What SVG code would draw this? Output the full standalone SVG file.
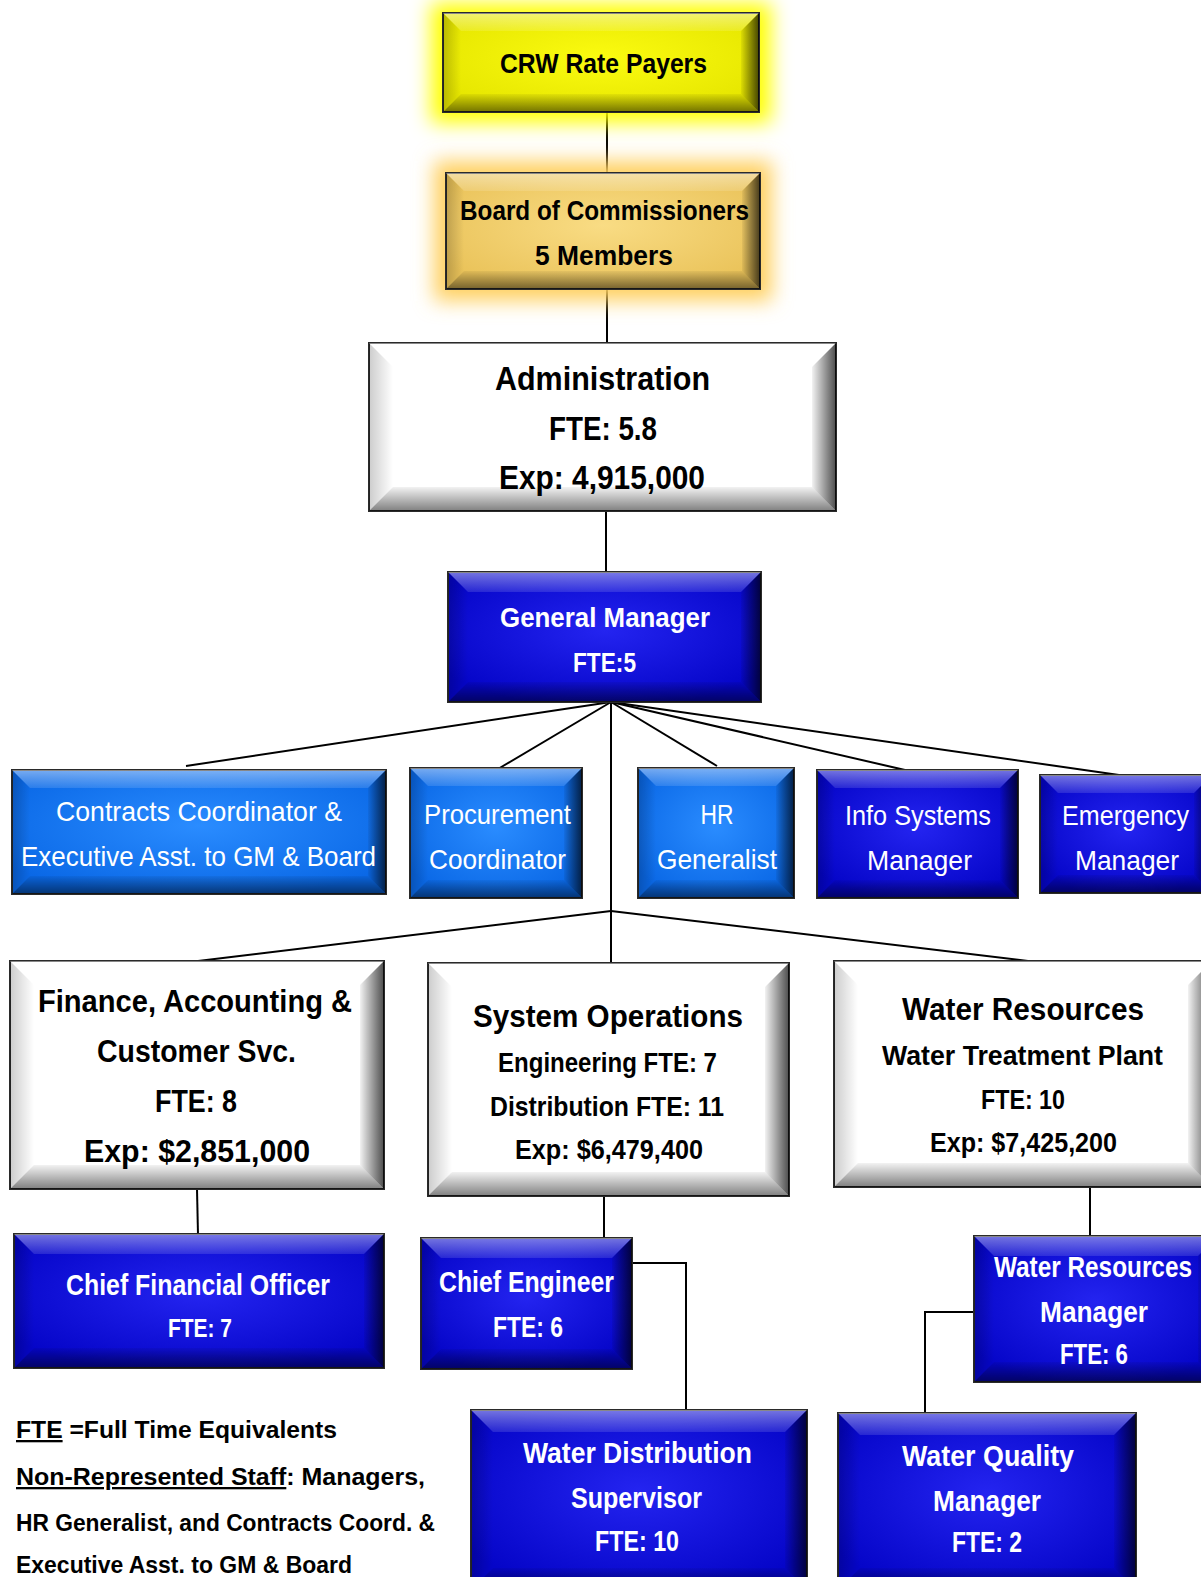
<svg xmlns="http://www.w3.org/2000/svg" width="1201" height="1577" viewBox="0 0 1201 1577">
<defs>
<style>
.t{font-family:"Liberation Sans Narrow","Liberation Sans",Arial,sans-serif;font-weight:bold;text-anchor:middle}
.r{font-weight:normal}
.k{fill:#000}
.w{fill:#fff}
.lg{font-family:"Liberation Sans Narrow","Liberation Sans",Arial,sans-serif;font-weight:bold;font-size:23px;fill:#000}
.box{stroke:#2a2a2a;stroke-width:2}
.yel{fill:url(#gYel)}
.gold{fill:url(#gGold)}
.wht{fill:#fff}
.dbl{fill:url(#gDb)}
.lbl{fill:url(#gLb)}
.bt{fill:url(#gT)}
.bl{fill:url(#gL)}
.br{fill:url(#gR)}
.bb{fill:url(#gB)}
.cn{fill:none;stroke:#000;stroke-width:2}
</style>
<linearGradient id="gT" x1="0" y1="0" x2="0" y2="1"><stop offset="0" stop-color="#fff" stop-opacity="0.45"/><stop offset="1" stop-color="#fff" stop-opacity="0.12"/></linearGradient>
<linearGradient id="gL" x1="0" y1="0" x2="1" y2="0"><stop offset="0" stop-color="#000" stop-opacity="0.2"/><stop offset="1" stop-color="#000" stop-opacity="0"/></linearGradient>
<linearGradient id="gR" x1="0" y1="0" x2="1" y2="0"><stop offset="0" stop-color="#000" stop-opacity="0.05"/><stop offset="1" stop-color="#000" stop-opacity="0.7"/></linearGradient>
<linearGradient id="gB" x1="0" y1="0" x2="0" y2="1"><stop offset="0" stop-color="#000" stop-opacity="0.05"/><stop offset="1" stop-color="#000" stop-opacity="0.5"/></linearGradient>
<radialGradient id="gDb" cx="0.5" cy="0.45" r="0.6"><stop offset="0" stop-color="#2424f0"/><stop offset="1" stop-color="#0505c8"/></radialGradient>
<radialGradient id="gLb" cx="0.5" cy="0.45" r="0.6"><stop offset="0" stop-color="#2a8cff"/><stop offset="1" stop-color="#0a68e6"/></radialGradient>
<radialGradient id="gYel" cx="0.5" cy="0.45" r="0.6"><stop offset="0" stop-color="#fbfb10"/><stop offset="1" stop-color="#e6e600"/></radialGradient>
<radialGradient id="gGold" cx="0.5" cy="0.45" r="0.6"><stop offset="0" stop-color="#f9dc84"/><stop offset="1" stop-color="#eac35a"/></radialGradient>
<filter id="glow" x="-30%" y="-60%" width="160%" height="220%"><feGaussianBlur stdDeviation="10"/></filter>
</defs>
<rect width="1201" height="1577" fill="#fff"/>

<g id="connectors">
<line class="cn" x1="607" y1="112" x2="607" y2="173"/>
<line class="cn" x1="607" y1="289" x2="607" y2="343"/>
<line class="cn" x1="606" y1="511" x2="606" y2="572"/>
<line class="cn" x1="611" y1="702" x2="186" y2="766"/>
<line class="cn" x1="611" y1="702" x2="498" y2="769"/>
<line class="cn" x1="611" y1="702" x2="717" y2="766"/>
<line class="cn" x1="611" y1="702" x2="905" y2="770"/>
<line class="cn" x1="611" y1="702" x2="1119" y2="775"/>
<line class="cn" x1="611" y1="702" x2="611" y2="963"/>
<line class="cn" x1="611" y1="911" x2="198" y2="961"/>
<line class="cn" x1="611" y1="911" x2="1028" y2="961"/>
<line class="cn" x1="197" y1="1189" x2="198" y2="1235"/>
<line class="cn" x1="604" y1="1196" x2="604" y2="1238"/>
<path class="cn" d="M615,1263 H686 V1414 H756"/>
<line class="cn" x1="1090" y1="1187" x2="1090" y2="1236"/>
<path class="cn" d="M975,1312 H925 V1414"/>
</g>

<g id="crw">
<rect x="431" y="3" width="340" height="120" fill="#ffff00" filter="url(#glow)"/>
<rect class="box yel" x="443" y="13" width="316" height="99"/>
<polygon class="bt" points="443,13 759,13 741,31 461,31"/>
<polygon class="bb" points="443,112 759,112 741,94 461,94"/>
<polygon class="bl" points="443,13 461,31 461,94 443,112"/>
<polygon class="br" points="759,13 741,31 741,94 759,112"/>
<text class="t k" x="603.5" y="73" font-size="28" textLength="207" lengthAdjust="spacingAndGlyphs">CRW Rate Payers</text>
</g>

<g id="board">
<rect x="434" y="161" width="338" height="140" fill="#ffd060" filter="url(#glow)"/>
<rect class="box gold" x="446" y="173" width="314" height="116"/>
<polygon class="bt" points="446,173 760,173 742,191 464,191"/>
<polygon class="bb" points="446,289 760,289 742,271 464,271"/>
<polygon class="bl" points="446,173 464,191 464,271 446,289"/>
<polygon class="br" points="760,173 742,191 742,271 760,289"/>
<text class="t k" x="604.5" y="220" font-size="28" textLength="289" lengthAdjust="spacingAndGlyphs">Board of Commissioners</text>
<text class="t k" x="604" y="265" font-size="28" textLength="138" lengthAdjust="spacingAndGlyphs">5 Members</text>
</g>

<g id="admin">
<rect class="box wht" x="369" y="343" width="467" height="168"/>
<polygon class="bt" points="369,343 836,343 812,367 393,367"/>
<polygon class="bb" points="369,511 836,511 812,487 393,487"/>
<polygon class="bl" points="369,343 393,367 393,487 369,511"/>
<polygon class="br" points="836,343 812,367 812,487 836,511"/>
<text class="t k" x="602.5" y="390" font-size="34" textLength="215" lengthAdjust="spacingAndGlyphs">Administration</text>
<text class="t k" x="603" y="440" font-size="34" textLength="108" lengthAdjust="spacingAndGlyphs">FTE: 5.8</text>
<text class="t k" x="602" y="489" font-size="34" textLength="206" lengthAdjust="spacingAndGlyphs">Exp: 4,915,000</text>
</g>

<g id="gm">
<rect class="box dbl" x="448" y="572" width="313" height="130"/>
<polygon class="bt" points="448,572 761,572 741,592 468,592"/>
<polygon class="bb" points="448,702 761,702 741,682 468,682"/>
<polygon class="bl" points="448,572 468,592 468,682 448,702"/>
<polygon class="br" points="761,572 741,592 741,682 761,702"/>
<text class="t w" x="605" y="627" font-size="28" textLength="210" lengthAdjust="spacingAndGlyphs">General Manager</text>
<text class="t w" x="604.5" y="672" font-size="28" textLength="63" lengthAdjust="spacingAndGlyphs">FTE:5</text>
</g>

<g id="contracts">
<rect class="box lbl" x="12" y="770" width="374" height="124"/>
<polygon class="bt" points="12,770 386,770 368,788 30,788"/>
<polygon class="bb" points="12,894 386,894 368,876 30,876"/>
<polygon class="bl" points="12,770 30,788 30,876 12,894"/>
<polygon class="br" points="386,770 368,788 368,876 386,894"/>
<text class="t r w" x="199" y="821" font-size="28" textLength="286" lengthAdjust="spacingAndGlyphs">Contracts Coordinator &amp;</text>
<text class="t r w" x="198.5" y="866" font-size="28" textLength="355" lengthAdjust="spacingAndGlyphs">Executive Asst. to GM &amp; Board</text>
</g>

<g id="procurement">
<rect class="box lbl" x="410" y="768" width="172" height="130"/>
<polygon class="bt" points="410,768 582,768 564,786 428,786"/>
<polygon class="bb" points="410,898 582,898 564,880 428,880"/>
<polygon class="bl" points="410,768 428,786 428,880 410,898"/>
<polygon class="br" points="582,768 564,786 564,880 582,898"/>
<text class="t r w" x="497.5" y="824" font-size="28" textLength="147" lengthAdjust="spacingAndGlyphs">Procurement</text>
<text class="t r w" x="497.5" y="869" font-size="28" textLength="137" lengthAdjust="spacingAndGlyphs">Coordinator</text>
</g>

<g id="hr">
<rect class="box lbl" x="638" y="768" width="156" height="130"/>
<polygon class="bt" points="638,768 794,768 776,786 656,786"/>
<polygon class="bb" points="638,898 794,898 776,880 656,880"/>
<polygon class="bl" points="638,768 656,786 656,880 638,898"/>
<polygon class="br" points="794,768 776,786 776,880 794,898"/>
<text class="t r w" x="717" y="824" font-size="28" textLength="33" lengthAdjust="spacingAndGlyphs">HR</text>
<text class="t r w" x="717" y="869" font-size="28" textLength="120" lengthAdjust="spacingAndGlyphs">Generalist</text>
</g>

<g id="infosys">
<rect class="box dbl" x="817" y="770" width="201" height="128"/>
<polygon class="bt" points="817,770 1018,770 1000,788 835,788"/>
<polygon class="bb" points="817,898 1018,898 1000,880 835,880"/>
<polygon class="bl" points="817,770 835,788 835,880 817,898"/>
<polygon class="br" points="1018,770 1000,788 1000,880 1018,898"/>
<text class="t r w" x="918" y="825" font-size="28" textLength="146" lengthAdjust="spacingAndGlyphs">Info Systems</text>
<text class="t r w" x="919.5" y="870" font-size="28" textLength="105" lengthAdjust="spacingAndGlyphs">Manager</text>
</g>

<g id="emergency">
<rect class="box dbl" x="1040" y="775" width="172" height="118"/>
<polygon class="bt" points="1040,775 1212,775 1194,793 1058,793"/>
<polygon class="bb" points="1040,893 1212,893 1194,875 1058,875"/>
<polygon class="bl" points="1040,775 1058,793 1058,875 1040,893"/>
<polygon class="br" points="1212,775 1194,793 1194,875 1212,893"/>
<text class="t r w" x="1125.5" y="825" font-size="28" textLength="127" lengthAdjust="spacingAndGlyphs">Emergency</text>
<text class="t r w" x="1127" y="870" font-size="28" textLength="104" lengthAdjust="spacingAndGlyphs">Manager</text>
</g>

<g id="finance">
<rect class="box wht" x="10" y="961" width="374" height="228"/>
<polygon class="bt" points="10,961 384,961 360,985 34,985"/>
<polygon class="bb" points="10,1189 384,1189 360,1165 34,1165"/>
<polygon class="bl" points="10,961 34,985 34,1165 10,1189"/>
<polygon class="br" points="384,961 360,985 360,1165 384,1189"/>
<text class="t k" x="195" y="1012" font-size="32" textLength="314" lengthAdjust="spacingAndGlyphs">Finance, Accounting &amp;</text>
<text class="t k" x="196.5" y="1062" font-size="32" textLength="199" lengthAdjust="spacingAndGlyphs">Customer Svc.</text>
<text class="t k" x="196" y="1112" font-size="32" textLength="82" lengthAdjust="spacingAndGlyphs">FTE: 8</text>
<text class="t k" x="197" y="1162" font-size="32" textLength="226" lengthAdjust="spacingAndGlyphs">Exp: $2,851,000</text>
</g>

<g id="sysops">
<rect class="box wht" x="428" y="963" width="361" height="233"/>
<polygon class="bt" points="428,963 789,963 765,987 452,987"/>
<polygon class="bb" points="428,1196 789,1196 765,1172 452,1172"/>
<polygon class="bl" points="428,963 452,987 452,1172 428,1196"/>
<polygon class="br" points="789,963 765,987 765,1172 789,1196"/>
<text class="t k" x="608" y="1027" font-size="32" textLength="270" lengthAdjust="spacingAndGlyphs">System Operations</text>
<text class="t k" x="607.5" y="1072" font-size="27" textLength="219" lengthAdjust="spacingAndGlyphs">Engineering FTE: 7</text>
<text class="t k" x="607" y="1116" font-size="27" textLength="234" lengthAdjust="spacingAndGlyphs">Distribution FTE: 11</text>
<text class="t k" x="609" y="1159" font-size="27" textLength="188" lengthAdjust="spacingAndGlyphs">Exp: $6,479,400</text>
</g>

<g id="waterres">
<rect class="box wht" x="834" y="961" width="378" height="226"/>
<polygon class="bt" points="834,961 1212,961 1188,985 858,985"/>
<polygon class="bb" points="834,1187 1212,1187 1188,1163 858,1163"/>
<polygon class="bl" points="834,961 858,985 858,1163 834,1187"/>
<polygon class="br" points="1212,961 1188,985 1188,1163 1212,1187"/>
<text class="t k" x="1023" y="1020" font-size="32" textLength="242" lengthAdjust="spacingAndGlyphs">Water Resources</text>
<text class="t k" x="1022.5" y="1065" font-size="27" textLength="281" lengthAdjust="spacingAndGlyphs">Water Treatment Plant</text>
<text class="t k" x="1023" y="1109" font-size="27" textLength="84" lengthAdjust="spacingAndGlyphs">FTE: 10</text>
<text class="t k" x="1023.5" y="1152" font-size="27" textLength="187" lengthAdjust="spacingAndGlyphs">Exp: $7,425,200</text>
</g>

<g id="cfo">
<rect class="box dbl" x="14" y="1234" width="370" height="134"/>
<polygon class="bt" points="14,1234 384,1234 364,1254 34,1254"/>
<polygon class="bb" points="14,1368 384,1368 364,1348 34,1348"/>
<polygon class="bl" points="14,1234 34,1254 34,1348 14,1368"/>
<polygon class="br" points="384,1234 364,1254 364,1348 384,1368"/>
<text class="t w" x="198" y="1295" font-size="29" textLength="264" lengthAdjust="spacingAndGlyphs">Chief Financial Officer</text>
<text class="t w" x="200" y="1337" font-size="26" textLength="64" lengthAdjust="spacingAndGlyphs">FTE: 7</text>
</g>

<g id="chiefeng">
<rect class="box dbl" x="421" y="1238" width="211" height="131"/>
<polygon class="bt" points="421,1238 632,1238 612,1258 441,1258"/>
<polygon class="bb" points="421,1369 632,1369 612,1349 441,1349"/>
<polygon class="bl" points="421,1238 441,1258 441,1349 421,1369"/>
<polygon class="br" points="632,1238 612,1258 612,1349 632,1369"/>
<text class="t w" x="526.5" y="1292" font-size="29" textLength="175" lengthAdjust="spacingAndGlyphs">Chief Engineer</text>
<text class="t w" x="528" y="1337" font-size="29" textLength="70" lengthAdjust="spacingAndGlyphs">FTE: 6</text>
</g>

<g id="waterdist">
<rect class="box dbl" x="471" y="1410" width="336" height="180"/>
<polygon class="bt" points="471,1410 807,1410 785,1432 493,1432"/>
<polygon class="bb" points="471,1590 807,1590 785,1568 493,1568"/>
<polygon class="bl" points="471,1410 493,1432 493,1568 471,1590"/>
<polygon class="br" points="807,1410 785,1432 785,1568 807,1590"/>
<text class="t w" x="637.5" y="1463" font-size="29" textLength="229" lengthAdjust="spacingAndGlyphs">Water Distribution</text>
<text class="t w" x="636.5" y="1508" font-size="29" textLength="131" lengthAdjust="spacingAndGlyphs">Supervisor</text>
<text class="t w" x="637" y="1551" font-size="29" textLength="84" lengthAdjust="spacingAndGlyphs">FTE: 10</text>
</g>

<g id="wrmanager">
<rect class="box dbl" x="974" y="1236" width="244" height="146"/>
<polygon class="bt" points="974,1236 1218,1236 1198,1256 994,1256"/>
<polygon class="bb" points="974,1382 1218,1382 1198,1362 994,1362"/>
<polygon class="bl" points="974,1236 994,1256 994,1362 974,1382"/>
<polygon class="br" points="1218,1236 1198,1256 1198,1362 1218,1382"/>
<text class="t w" x="1093" y="1277" font-size="29" textLength="198" lengthAdjust="spacingAndGlyphs">Water Resources</text>
<text class="t w" x="1094" y="1322" font-size="29" textLength="108" lengthAdjust="spacingAndGlyphs">Manager</text>
<text class="t w" x="1094" y="1364" font-size="29" textLength="68" lengthAdjust="spacingAndGlyphs">FTE: 6</text>
</g>

<g id="wqmanager">
<rect class="box dbl" x="838" y="1413" width="298" height="177"/>
<polygon class="bt" points="838,1413 1136,1413 1114,1435 860,1435"/>
<polygon class="bb" points="838,1590 1136,1590 1114,1568 860,1568"/>
<polygon class="bl" points="838,1413 860,1435 860,1568 838,1590"/>
<polygon class="br" points="1136,1413 1114,1435 1114,1568 1136,1590"/>
<text class="t w" x="988" y="1466" font-size="29" textLength="172" lengthAdjust="spacingAndGlyphs">Water Quality</text>
<text class="t w" x="987" y="1511" font-size="29" textLength="108" lengthAdjust="spacingAndGlyphs">Manager</text>
<text class="t w" x="987" y="1552" font-size="29" textLength="70" lengthAdjust="spacingAndGlyphs">FTE: 2</text>
</g>

<g id="legend">
<text class="lg" x="16" y="1438" textLength="321" lengthAdjust="spacingAndGlyphs"><tspan text-decoration="underline">FTE</tspan> =Full Time Equivalents</text>
<text class="lg" x="16" y="1485" textLength="409" lengthAdjust="spacingAndGlyphs"><tspan text-decoration="underline">Non-Represented Staff</tspan>: Managers,</text>
<text class="lg" x="16" y="1531" textLength="419" lengthAdjust="spacingAndGlyphs">HR Generalist, and Contracts Coord. &amp;</text>
<text class="lg" x="16" y="1573" textLength="336" lengthAdjust="spacingAndGlyphs">Executive Asst. to GM &amp; Board</text>
</g>
</svg>
